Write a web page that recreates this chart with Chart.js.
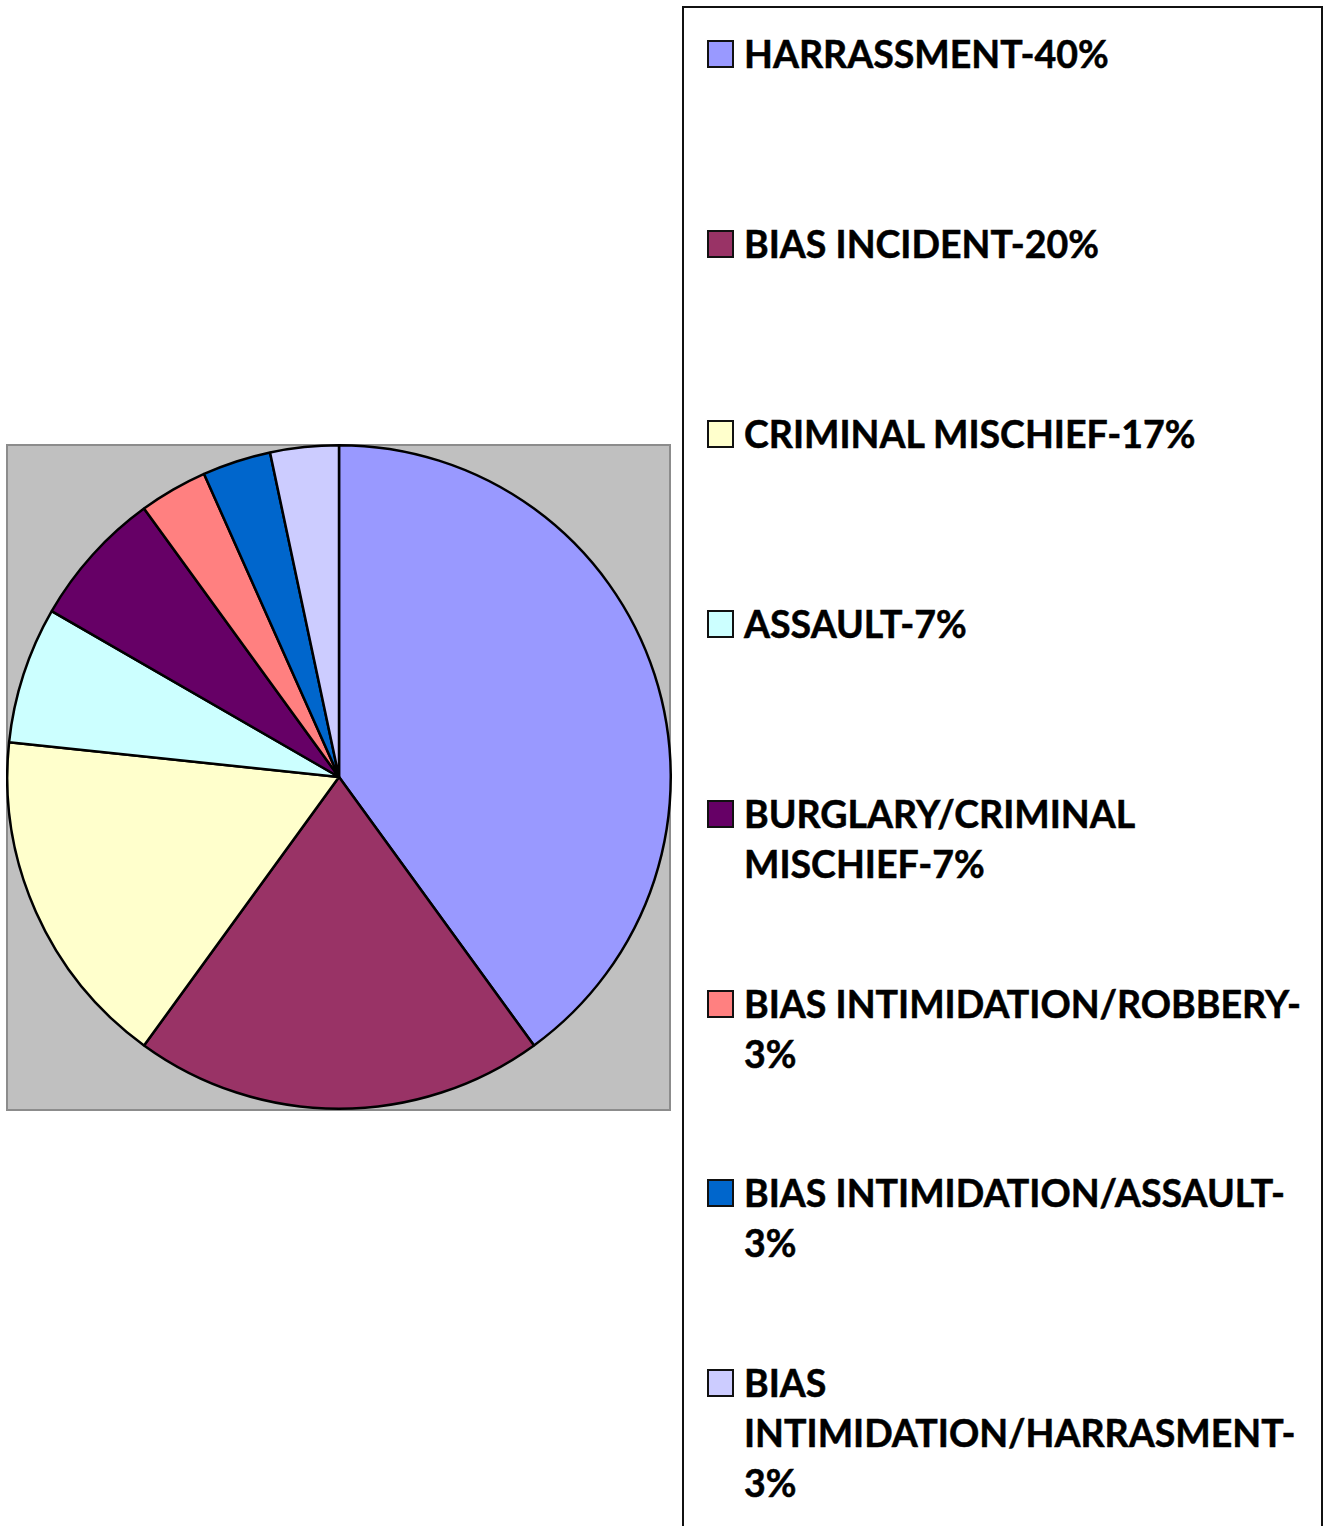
<!DOCTYPE html>
<html>
<head>
<meta charset="utf-8">
<script src="https://cdn.jsdelivr.net/npm/chart.js@4.4.0/dist/chart.umd.min.js"></script>
<style>
  html, body { margin: 0; padding: 0; background: #fff; overflow: hidden; }
  body { width: 1327px; height: 1526px; position: relative; }
  #plotbg { position: absolute; left: 6px; top: 444px; width: 665px; height: 667px; box-sizing: border-box;
            background: #C0C0C0; border: 2px solid #8C8C8C; }
  #wrap { position: absolute; left: 6px; top: 444px; width: 666px; height: 666px; }
  #legend { position: absolute; left: 682px; top: 6px; width: 641px; height: 1600px; box-sizing: border-box;
            border: 2px solid #111; background: #fff; }
  .item { position: absolute; left: 0; }
  .mk { position: absolute; left: 23px; width: 27px; height: 28px; box-sizing: border-box; border: 2px solid #111; }
  .tx { position: absolute; left: 60px; font-family: Lato, sans-serif; font-weight: 700; font-size: 37.5px;
        line-height: 50px; white-space: nowrap; color: #000; -webkit-text-stroke: 0.5px #000; }
</style>
</head>
<body>
<div id="plotbg"></div>
<div id="wrap"><canvas id="c" width="666" height="666"></canvas></div>
<div id="legend"></div>
<script>
const categories = ['HARRASSMENT', 'BIAS INCIDENT', 'CRIMINAL MISCHIEF', 'ASSAULT',
  'BURGLARY/CRIMINAL MISCHIEF', 'BIAS INTIMIDATION/ROBBERY', 'BIAS INTIMIDATION/ASSAULT',
  'BIAS INTIMIDATION/HARRASMENT'];
const counts = [12, 6, 5, 2, 2, 1, 1, 1];
const legendLines = [
  ['HARRASSMENT-40%'],
  ['BIAS INCIDENT-20%'],
  ['CRIMINAL MISCHIEF-17%'],
  ['ASSAULT-7%'],
  ['BURGLARY/CRIMINAL', 'MISCHIEF-7%'],
  ['BIAS INTIMIDATION/ROBBERY-', '3%'],
  ['BIAS INTIMIDATION/ASSAULT-', '3%'],
  ['BIAS', 'INTIMIDATION/HARRASMENT-', '3%']
];
const sliceColors = ['#9999FF', '#993366', '#FFFFCC', '#CCFFFF', '#660066', '#FF8080', '#0066CC', '#CCCCFF'];

const chart = new Chart(document.getElementById('c'), {
  type: 'pie',
  data: {
    labels: categories,
    datasets: [{
      data: counts,
      backgroundColor: sliceColors,
      borderColor: '#000',
      borderWidth: 2.5,
      borderAlign: 'center'
    }]
  },
  options: {
    responsive: false,
    animation: false,
    devicePixelRatio: 1,
    layout: { padding: 0 },
    plugins: { legend: { display: false }, tooltip: { enabled: false } }
  }
});

const legend = document.getElementById('legend');
const items = chart.data.labels.map((lab, i) => ({ lines: legendLines[i], color: chart.data.datasets[0].backgroundColor[i] }));
items.forEach((it, i) => {
  const top = 32 + i * 189.9;
  const d = document.createElement('div');
  d.className = 'item';
  d.style.top = top + 'px';
  const mk = document.createElement('div');
  mk.className = 'mk';
  mk.style.top = '0px';
  mk.style.background = it.color;
  const tx = document.createElement('div');
  tx.className = 'tx';
  tx.style.top = '-11px';
  tx.innerHTML = it.lines.map(s => s.replace(/&/g, '&amp;')).join('<br>');
  d.appendChild(mk);
  d.appendChild(tx);
  legend.appendChild(d);
});
</script>
</body>
</html>
